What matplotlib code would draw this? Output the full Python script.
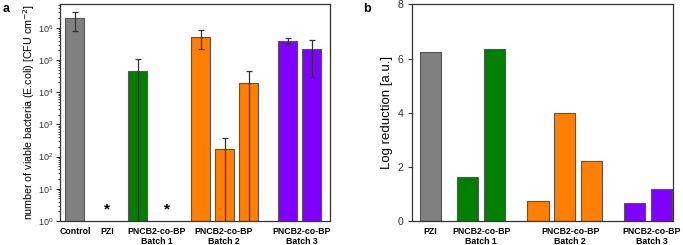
import numpy as np
import matplotlib
matplotlib.use("Agg")
import matplotlib.pyplot as plt

plt.rcParams['font.family'] = ['Liberation Sans', 'DejaVu Sans']

# panel a: viable bacteria (0 = none detected, shown as *)
a_values = [1.95e6, 0, 4.5e4, 0, 5.3e5, 170, 1.9e4, 4.0e5, 2.2e5]
a_err = [1.15e6, 0, 6e4, 0, 3.1e5, 200, 2.8e4, 9e4, 1.9e5]
a_group = [0, 1, 2, 2, 3, 3, 3, 4, 4]
a_labels = ["Control", "PZI", "PNCB2-co-BP\nBatch 1", "PNCB2-co-BP\nBatch 2", "PNCB2-co-BP\nBatch 3"]

# panel b: log reduction
b_values = [6.25, 1.64, 6.34, 0.73, 4.0, 2.23, 0.65, 1.18]
b_group = [1, 2, 2, 3, 3, 3, 4, 4]
b_labels = ["PZI", "PNCB2-co-BP\nBatch 1", "PNCB2-co-BP\nBatch 2", "PNCB2-co-BP\nBatch 3"]

colors = ['#808080', '#808080', '#007f00', '#ff8000', '#8000ff']
edge = '#555555'

# layout positions
a_pos = np.array([0, 1.33, 2.625, 3.83, 5.25, 6.25, 7.25, 8.875, 9.875])
a_tick = [0, 1.33, 3.42, 6.2, 9.46]
b_pos = np.array([0, 1.37, 2.37, 4.0, 4.97, 5.99, 7.59, 8.58])
b_tick = [0, 1.89, 5.19, 8.22]

fig = plt.figure(figsize=(6.83, 2.45), dpi=100)
axa = fig.add_axes([0.0878, 0.098, 0.3953, 0.886])
axb = fig.add_axes([0.603, 0.098, 0.382, 0.884])

vals = np.array(a_values, dtype=float)
errs = np.array(a_err, dtype=float)
has = vals > 0
cols = [colors[g] for g in a_group]
axa.bar(a_pos[has], vals[has], width=0.79, color=[c for c, h in zip(cols, has) if h],
        edgecolor=edge, linewidth=0.8, zorder=2)
# lower error bars running below 1 get drawn down to the axis bottom
low = np.minimum(errs[has], vals[has] * (1 - 1e-6))
axa.errorbar(a_pos[has], vals[has], yerr=[low, errs[has]], fmt='none',
             ecolor='#333333', elinewidth=0.9, capsize=2.5, capthick=0.9, zorder=3)
for x in a_pos[~has]:
    axa.text(x, 2.3, '*', ha='center', va='center', fontsize=11, fontweight='bold')

axa.set_yscale('log')
axa.set_ylim(1, 10 ** 6.74)
axa.set_xlim(-0.625, 10.625)
axa.set_yticks([10 ** i for i in range(7)])
axa.set_xticks(a_tick)
axa.set_xticklabels(a_labels, fontsize=6.3, fontweight='bold')
axa.set_ylabel('number of viable bacteria (E.coli) [CFU cm$^{-2}$]', fontsize=7.7, labelpad=1)

axb.bar(b_pos, b_values, width=0.78, color=[colors[g] for g in b_group],
        edgecolor=edge, linewidth=0.8, zorder=2)
axb.set_ylim(0, 8)
axb.set_xlim(-0.68, 9.0)
axb.set_yticks([0, 2, 4, 6, 8])
axb.set_xticks(b_tick)
axb.set_xticklabels(b_labels, fontsize=6.3, fontweight='bold')
axb.set_ylabel('Log reduction [a.u.]', fontsize=9.5, labelpad=3)

for ax in (axa, axb):
    for s in ax.spines.values():
        s.set_color('#333333')
        s.set_linewidth(0.9)
    ax.tick_params(axis='x', length=0, pad=4)
    ax.tick_params(axis='y', which='major', direction='out', length=3, width=0.8,
                   labelsize=6.5, colors='#333333', pad=1.5)
    ax.tick_params(axis='y', which='minor', direction='out', length=1.5, width=0.5)
axb.tick_params(axis='y', labelsize=7.5, pad=3)

fig.text(0.004, 0.965, 'a', fontsize=9, fontweight='bold', va='center')
fig.text(0.532, 0.965, 'b', fontsize=9, fontweight='bold', va='center')

fig.savefig('out.png', dpi=100)
